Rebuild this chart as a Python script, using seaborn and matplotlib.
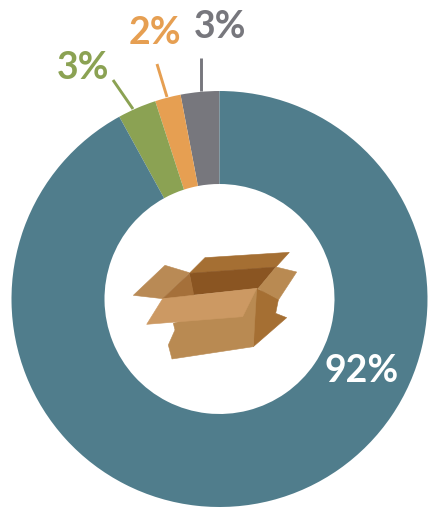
import matplotlib
matplotlib.use("Agg")
import matplotlib.pyplot as plt
import seaborn as sns

# Shares run counter-clockwise from twelve o'clock
shares = [3, 2, 3, 92]
share_labels = ["3%", "2%", "3%", "92%"]
share_colors = ["#77777D", "#E69F52", "#8BA253", "#507D8C"]
label_colors = ["#77777D", "#E69F52", "#8BA253", "white"]

# Label anchors and leader lines, in pixels from the top-left corner
label_pos = [(220, 27), (155, 33), (83, 68), (362, 371)]
leaders = [((201, 58), (201, 91)), ((157, 64), (167, 97)), ((113, 80), (133, 109)), None]

# Cardboard box icon: colour and outline of each face
box_faces = [
    ("#A56F33", [(315, 113), (568, 97), (528, 141), (268, 160)]),
    ("#8A5522", [(268, 160), (528, 141), (475, 205), (280, 225)]),
    ("#B98A55", [(100, 226), (195, 136), (268, 158), (188, 236)]),
    ("#A5703A", [(188, 236), (268, 160), (282, 228), (300, 232)]),
    ("#B98A52", [(528, 141), (590, 156), (535, 240), (525, 243), (475, 205)]),
    ("#A56F33", [(470, 205), (535, 240), (527, 280), (560, 293), (460, 380), (460, 290)]),
    ("#B98A52", [(220, 310), (300, 285), (470, 205), (465, 290), (460, 380), (216, 417), (205, 375), (225, 330)]),
    ("#CC9963", [(188, 236), (470, 205), (428, 290), (140, 313)]),
]

W, H = 428, 508
sns.set_theme(style="white")
plt.rcParams["font.family"] = ["Lato", "DejaVu Sans"]

fig = plt.figure(figsize=(W / 100, H / 100), dpi=100)
ax = fig.add_axes([0, 0, 1, 1])

cx, cy, outer, inner = 219.5, H - 299, 208, 115
ax.pie(shares, colors=share_colors, startangle=90, counterclock=True,
       center=(cx, cy), radius=outer,
       wedgeprops=dict(width=outer - inner, linewidth=0))

for (color, face) in box_faces:
    xs = [100 + x / 3 for x, _ in face]
    ys = [H - (220 + y / 3) for _, y in face]
    ax.fill(xs, ys, facecolor=color, edgecolor=color, linewidth=0.4)

for text, color, (x, y), line in zip(share_labels, label_colors, label_pos, leaders):
    ax.text(x, H - y, text, color=color, fontsize=27, fontweight="bold",
            ha="center", va="center")
    if line:
        (x0, y0), (x1, y1) = line
        ax.plot([x0, x1], [H - y0, H - y1], color=color, linewidth=2.1, solid_capstyle="butt")

ax.set_xlim(0, W)
ax.set_ylim(0, H)
ax.set_aspect("equal")
ax.axis("off")
fig.savefig("out.png", dpi=100, facecolor="white")
